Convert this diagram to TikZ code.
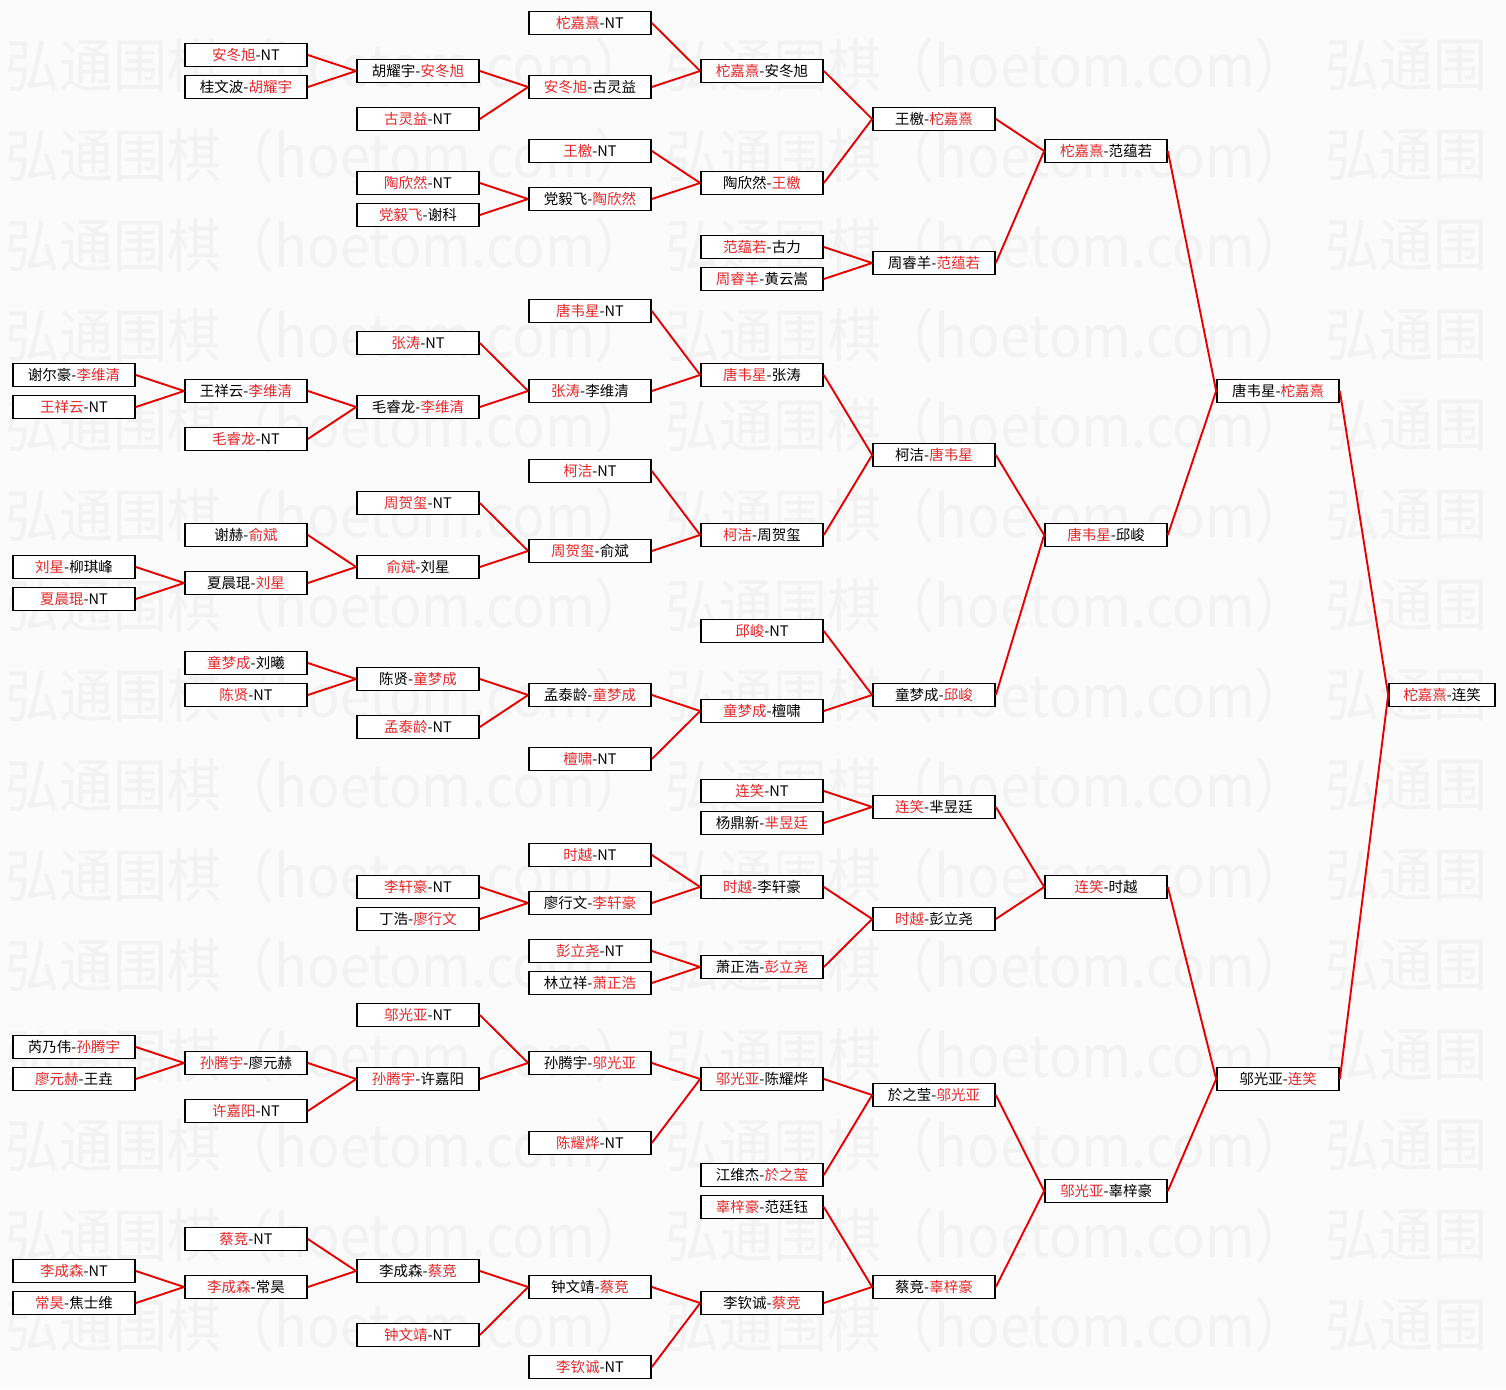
\documentclass[tikz,border=0pt]{standalone}
\usepackage{fontspec}
\setmainfont{Noto Sans CJK SC}
\definecolor{txtred}{RGB}{228,40,40}
\definecolor{linered}{RGB}{232,0,0}
\definecolor{bgc}{RGB}{251,251,251}
\definecolor{wmc}{RGB}{242,242,242}
\newcommand\R[1]{\textcolor{txtred}{#1}}
\tikzset{
  box/.style={draw=black, line width=1.7pt, fill=white, minimum width=122pt, minimum height=23pt, inner sep=0pt, font=\fontsize{14.5}{16}\selectfont},
  link/.style={draw=linered, line width=1.9pt},
  wm/.style={text=wmc, anchor=west, inner sep=0pt, font=\fontsize{58}{60}\selectfont}
}
\newcommand\bx[4]{\node[box] (#1) at (#2,#3) {#4};}
\newcommand\jn[3]{\draw[link] (#2.east) -- (#1.west); \draw[link] (#3.east) -- (#1.west);}
\begin{document}
\begin{tikzpicture}[x=1pt,y=-1pt]
\fill[bgc] (0,0) rectangle (1506,1389);
\useasboundingbox (0,0) rectangle (1506,1389);
\foreach \r in {0,...,14}{
  \node[wm] (wma\r) at (5,{65+90*\r}) {\scalebox{0.93}[1]{弘通围棋（hoetom.com）}};
  \node[wm] (wmb\r) at (665,{65+90*\r}) {\scalebox{0.93}[1]{弘通围棋（hoetom.com）}};
  \node[wm] (wmc\r) at (1325,{65+90*\r}) {\scalebox{0.93}[1]{弘通围}};
}
% column 0
\bx{a1}{74}{375}{谢尔豪-\R{李维清}}
\bx{a2}{74}{407}{\R{王祥云}-NT}
\bx{a3}{74}{567}{\R{刘星}-柳琪峰}
\bx{a4}{74}{599}{\R{夏晨琨}-NT}
\bx{a5}{74}{1047}{芮乃伟-\R{孙腾宇}}
\bx{a6}{74}{1079}{\R{廖元赫}-王垚}
\bx{a7}{74}{1271}{\R{李成森}-NT}
\bx{a8}{74}{1303}{\R{常昊}-焦士维}
% column 1
\bx{b1}{246}{55}{\R{安冬旭}-NT}
\bx{b2}{246}{87}{桂文波-\R{胡耀宇}}
\bx{b3}{246}{391}{王祥云-\R{李维清}}
\bx{b4}{246}{439}{\R{毛睿龙}-NT}
\bx{b5}{246}{535}{谢赫-\R{俞斌}}
\bx{b6}{246}{583}{夏晨琨-\R{刘星}}
\bx{b7}{246}{663}{\R{童梦成}-刘曦}
\bx{b8}{246}{695}{\R{陈贤}-NT}
\bx{b9}{246}{1063}{\R{孙腾宇}-廖元赫}
\bx{b10}{246}{1111}{\R{许嘉阳}-NT}
\bx{b11}{246}{1239}{\R{蔡竞}-NT}
\bx{b12}{246}{1287}{\R{李成森}-常昊}
% column 2
\bx{c1}{418}{71}{胡耀宇-\R{安冬旭}}
\bx{c2}{418}{119}{\R{古灵益}-NT}
\bx{c3}{418}{183}{\R{陶欣然}-NT}
\bx{c4}{418}{215}{\R{党毅飞}-谢科}
\bx{c5}{418}{343}{\R{张涛}-NT}
\bx{c6}{418}{407}{毛睿龙-\R{李维清}}
\bx{c7}{418}{503}{\R{周贺玺}-NT}
\bx{c8}{418}{567}{\R{俞斌}-刘星}
\bx{c9}{418}{679}{陈贤-\R{童梦成}}
\bx{c10}{418}{727}{\R{孟泰龄}-NT}
\bx{c11}{418}{887}{\R{李轩豪}-NT}
\bx{c12}{418}{919}{丁浩-\R{廖行文}}
\bx{c13}{418}{1015}{\R{邬光亚}-NT}
\bx{c14}{418}{1079}{\R{孙腾宇}-许嘉阳}
\bx{c15}{418}{1271}{李成森-\R{蔡竞}}
\bx{c16}{418}{1335}{\R{钟文靖}-NT}
% column 3
\bx{d1}{590}{23}{\R{柁嘉熹}-NT}
\bx{d2}{590}{87}{\R{安冬旭}-古灵益}
\bx{d3}{590}{151}{\R{王檄}-NT}
\bx{d4}{590}{199}{党毅飞-\R{陶欣然}}
\bx{d5}{590}{311}{\R{唐韦星}-NT}
\bx{d6}{590}{391}{\R{张涛}-李维清}
\bx{d7}{590}{471}{\R{柯洁}-NT}
\bx{d8}{590}{551}{\R{周贺玺}-俞斌}
\bx{d9}{590}{695}{孟泰龄-\R{童梦成}}
\bx{d10}{590}{759}{\R{檀啸}-NT}
\bx{d11}{590}{855}{\R{时越}-NT}
\bx{d12}{590}{903}{廖行文-\R{李轩豪}}
\bx{d13}{590}{951}{\R{彭立尧}-NT}
\bx{d14}{590}{983}{林立祥-\R{萧正浩}}
\bx{d15}{590}{1063}{孙腾宇-\R{邬光亚}}
\bx{d16}{590}{1143}{\R{陈耀烨}-NT}
\bx{d17}{590}{1287}{钟文靖-\R{蔡竞}}
\bx{d18}{590}{1367}{\R{李钦诚}-NT}
% column 4
\bx{e1}{762}{71}{\R{柁嘉熹}-安冬旭}
\bx{e2}{762}{183}{陶欣然-\R{王檄}}
\bx{e3}{762}{247}{\R{范蕴若}-古力}
\bx{e4}{762}{279}{\R{周睿羊}-黄云嵩}
\bx{e5}{762}{375}{\R{唐韦星}-张涛}
\bx{e6}{762}{535}{\R{柯洁}-周贺玺}
\bx{e7}{762}{631}{\R{邱峻}-NT}
\bx{e8}{762}{711}{\R{童梦成}-檀啸}
\bx{e9}{762}{791}{\R{连笑}-NT}
\bx{e10}{762}{823}{杨鼎新-\R{芈昱廷}}
\bx{e11}{762}{887}{\R{时越}-李轩豪}
\bx{e12}{762}{967}{萧正浩-\R{彭立尧}}
\bx{e13}{762}{1079}{\R{邬光亚}-陈耀烨}
\bx{e14}{762}{1175}{江维杰-\R{於之莹}}
\bx{e15}{762}{1207}{\R{辜梓豪}-范廷钰}
\bx{e16}{762}{1303}{李钦诚-\R{蔡竞}}
% column 5
\bx{f1}{934}{119}{王檄-\R{柁嘉熹}}
\bx{f2}{934}{263}{周睿羊-\R{范蕴若}}
\bx{f3}{934}{455}{柯洁-\R{唐韦星}}
\bx{f4}{934}{695}{童梦成-\R{邱峻}}
\bx{f5}{934}{807}{\R{连笑}-芈昱廷}
\bx{f6}{934}{919}{\R{时越}-彭立尧}
\bx{f7}{934}{1095}{於之莹-\R{邬光亚}}
\bx{f8}{934}{1287}{蔡竞-\R{辜梓豪}}
% column 6
\bx{g1}{1106}{151}{\R{柁嘉熹}-范蕴若}
\bx{g2}{1106}{535}{\R{唐韦星}-邱峻}
\bx{g3}{1106}{887}{\R{连笑}-时越}
\bx{g4}{1106}{1191}{\R{邬光亚}-辜梓豪}
% column 7
\bx{h1}{1278}{391}{唐韦星-\R{柁嘉熹}}
\bx{h2}{1278}{1079}{邬光亚-\R{连笑}}
% final
\node[box, minimum width=106pt] (i1) at (1442,695) {\R{柁嘉熹}-连笑};
% connectors
\jn{c1}{b1}{b2}
\jn{d2}{c1}{c2}
\jn{e1}{d1}{d2}
\jn{d4}{c3}{c4}
\jn{e2}{d3}{d4}
\jn{f1}{e1}{e2}
\jn{f2}{e3}{e4}
\jn{g1}{f1}{f2}
\jn{b3}{a1}{a2}
\jn{c6}{b3}{b4}
\jn{d6}{c5}{c6}
\jn{e5}{d5}{d6}
\jn{f3}{e5}{e6}
\jn{b6}{a3}{a4}
\jn{c8}{b5}{b6}
\jn{d8}{c7}{c8}
\jn{e6}{d7}{d8}
\jn{c9}{b7}{b8}
\jn{d9}{c9}{c10}
\jn{e8}{d9}{d10}
\jn{f4}{e7}{e8}
\jn{g2}{f3}{f4}
\jn{h1}{g1}{g2}
\jn{f5}{e9}{e10}
\jn{d12}{c11}{c12}
\jn{e11}{d11}{d12}
\jn{e12}{d13}{d14}
\jn{f6}{e11}{e12}
\jn{g3}{f5}{f6}
\jn{b9}{a5}{a6}
\jn{c14}{b9}{b10}
\jn{d15}{c13}{c14}
\jn{e13}{d15}{d16}
\jn{f7}{e13}{e14}
\jn{b12}{a7}{a8}
\jn{c15}{b11}{b12}
\jn{d17}{c15}{c16}
\jn{e16}{d17}{d18}
\jn{f8}{e15}{e16}
\jn{g4}{f7}{f8}
\jn{h2}{g3}{g4}
\jn{i1}{h1}{h2}
\end{tikzpicture}
\end{document}
